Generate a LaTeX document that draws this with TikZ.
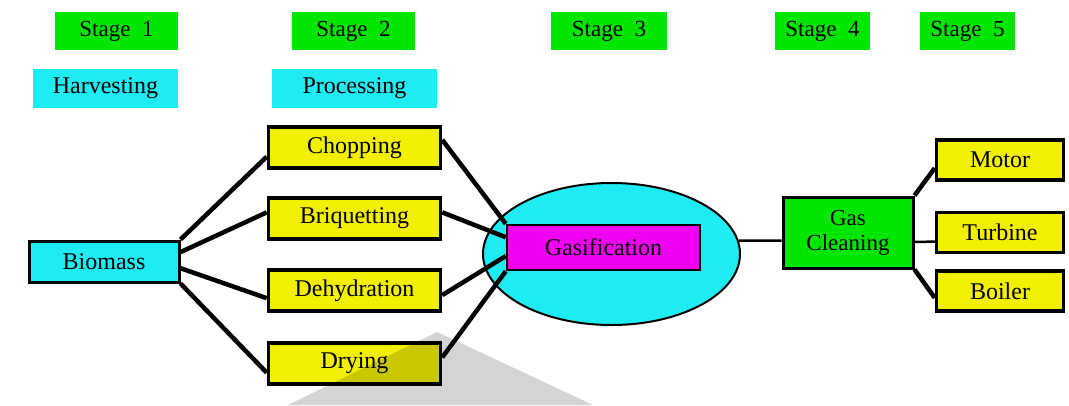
\documentclass[tikz,border=0pt]{standalone}
\usepackage{fontspec}
\setmainfont{Liberation Serif}
\usetikzlibrary{shapes.geometric}
\definecolor{stagegreen}{HTML}{00E600}
\definecolor{labcyan}{HTML}{1EECF2}
\definecolor{boxyellow}{HTML}{F2F000}
\definecolor{gasmag}{HTML}{F000F0}
\begin{document}
\begin{tikzpicture}[x=1pt,y=-1pt,
    stagebox/.style={fill=stagegreen,minimum height=38pt,inner sep=0pt,font=\fontsize{23}{26}\selectfont},
    labbox/.style={fill=labcyan,minimum height=39pt,inner sep=0pt,font=\fontsize{24}{27}\selectfont},
    procbox/.style={draw,line width=3.5pt,fill=boxyellow,minimum width=172pt,minimum height=41pt,inner sep=0pt,font=\fontsize{24}{27}\selectfont},
    outbox/.style={draw,line width=3.5pt,fill=boxyellow,minimum width=127pt,minimum height=40pt,inner sep=0pt,font=\fontsize{24}{27}\selectfont},
    fan/.style={line width=4.5pt},
    thin link/.style={line width=2.5pt}]
    \useasboundingbox (0,0) rectangle (1069,405);
    % stage headers
    \node[stagebox,minimum width=123pt] (s1) at (116.5,31) {Stage\ \ 1};
    \node[stagebox,minimum width=123pt] (s2) at (353.5,31) {Stage\ \ 2};
    \node[stagebox,minimum width=116pt] (s3) at (609,31) {Stage\ \ 3};
    \node[stagebox,minimum width=95pt] (s4) at (822.5,31) {Stage\ \ 4};
    \node[stagebox,minimum width=95pt] (s5) at (967.5,31) {Stage\ \ 5};
    \node[labbox,minimum width=145pt] (harv) at (105.5,88.5) {Harvesting};
    \node[labbox,minimum width=165pt] (proc) at (354.5,88.5) {Processing};
    % stage 1 and 2
    \node[draw,line width=3pt,fill=labcyan,minimum width=150pt,minimum height=41pt,inner sep=0pt,font=\fontsize{24}{27}\selectfont] (bio) at (104,261.5) {Biomass};
    \node[procbox] (chop) at (354.5,147.5) {Chopping};
    \node[procbox] (briq) at (354.5,218.5) {Briquetting};
    \node[procbox] (dehy) at (354.5,290.5) {Dehydration};
    \node[procbox] (dry) at (354.5,363.5) {Drying};
    % stage 3
    \node[draw,ellipse,line width=2pt,fill=labcyan,minimum width=257pt,minimum height=142pt,inner sep=0pt] (ell) at (611.5,254) {};
    \node[draw,line width=2.5pt,fill=gasmag,minimum width=193pt,minimum height=45pt,inner sep=0pt,font=\fontsize{24}{27}\selectfont] (gas) at (603.5,247.5) {Gasification};
    % stage 4 and 5
    \node[draw,line width=3pt,fill=stagegreen,minimum width=130pt,minimum height=71pt,inner sep=0pt,align=center,font=\fontsize{23}{25}\selectfont] (gcl) at (848,232.5) {Gas\\Cleaning};
    \node[outbox] (mot) at (1000,160) {Motor};
    \node[outbox] (tur) at (1000,232.5) {Turbine};
    \node[outbox] (boi) at (1000,291) {Boiler};
    % connectors
    \draw[fan] (bio.north east) -- (chop.186);
    \draw[fan] (bio.7) -- (briq.176);
    \draw[fan] (bio.-5) -- (dehy.185);
    \draw[fan] (bio.south east) -- (dry.186);
    \draw[fan] (chop.5) -- (gas.north west);
    \draw[fan] (briq.4) -- (gas.174);
    \draw[fan] (dehy.-3) -- (gas.185);
    \draw[fan] (dry.4) -- (gas.south west);
    \draw[thin link] (ell.6) -- (gcl.187);
    \draw[fan] (gcl.north east) -- (mot.187);
    \draw[thin link] (gcl.-8) -- (tur.188);
    \draw[fan] (gcl.south east) -- (boi.186);
    \fill[black,opacity=0.17] (437,332) -- (288,405) -- (593,405) -- cycle;%grey shadow at the bottom
\end{tikzpicture}
\end{document}
